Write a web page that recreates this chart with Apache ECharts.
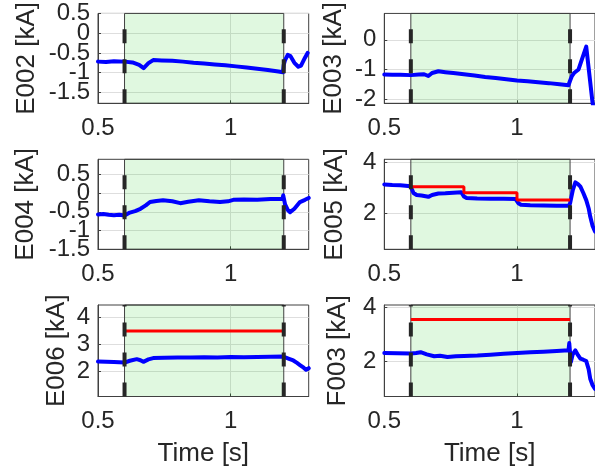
<!DOCTYPE html>
<html><head><meta charset="utf-8">
<script src="https://cdn.jsdelivr.net/npm/echarts@6/dist/echarts.min.js"></script>
<style>html,body{margin:0;padding:0;background:#fff}#c{width:595px;height:473px}</style>
</head><body><div id="c"></div>
<script>
// ---------------- data ----------------
const panelNames = ['E002', 'E003', 'E004', 'E005', 'E006', 'F003'];
const xMin = 0.5, xMax = 1.294;
const xTicks = [0.5, 1];
const windowStart = 0.6, windowEnd = 1.2;

const yLimE002 = [-1.775, 0.5], yTicksE002 = [-1.5, -1, -0.5, 0, 0.5];
const yLimE003 = [-2.14, 0.89], yTicksE003 = [-2, -1, 0];
const yLimE004 = [-1.5, 0.9],  yTicksE004 = [-1.5, -1, -0.5, 0, 0.5];
const yLimE005 = [0.58, 4.13], yTicksE005 = [2, 4];
const yLimE006 = [1.04, 4.47], yTicksE006 = [2, 3, 4];
const yLimF003 = [0.68, 4.09], yTicksF003 = [2, 4];

const tE002 = [0.50,0.53,0.56,0.60,0.63,0.655,0.672,0.69,0.708,0.74,0.78,0.82,0.86,0.90,0.94,0.98,1.02,1.06,1.10,1.14,1.18,1.197,1.20,1.205,1.215,1.225,1.24,1.255,1.265,1.28,1.29];
const vE002 = [-0.72,-0.73,-0.71,-0.72,-0.74,-0.80,-0.885,-0.76,-0.68,-0.69,-0.70,-0.72,-0.75,-0.77,-0.79,-0.81,-0.84,-0.87,-0.90,-0.93,-0.97,-0.99,-0.80,-0.68,-0.55,-0.58,-0.75,-0.85,-0.82,-0.62,-0.50];

const tE003 = [0.50,0.53,0.56,0.60,0.63,0.65,0.666,0.68,0.704,0.73,0.76,0.80,0.84,0.88,0.92,0.96,1.00,1.04,1.08,1.12,1.16,1.194,1.20,1.207,1.215,1.232,1.245,1.261,1.285,1.294];
const vE003 = [-1.17,-1.18,-1.18,-1.19,-1.17,-1.16,-1.22,-1.12,-1.06,-1.09,-1.12,-1.16,-1.20,-1.25,-1.29,-1.33,-1.37,-1.40,-1.43,-1.46,-1.50,-1.53,-1.38,-1.22,-1.12,-1.00,-0.65,-0.23,-2.14,-2.50];

const tE004 = [0.50,0.52,0.54,0.56,0.58,0.60,0.62,0.64,0.66,0.68,0.696,0.72,0.745,0.78,0.81,0.84,0.88,0.92,0.96,0.99,1.01,1.05,1.10,1.15,1.195,1.198,1.205,1.215,1.224,1.24,1.261,1.28,1.294];
const vE004 = [-0.57,-0.56,-0.58,-0.59,-0.58,-0.60,-0.52,-0.48,-0.42,-0.33,-0.24,-0.21,-0.19,-0.22,-0.27,-0.23,-0.19,-0.22,-0.24,-0.22,-0.18,-0.17,-0.18,-0.16,-0.16,-0.06,-0.30,-0.45,-0.51,-0.42,-0.24,-0.18,-0.13];

const tE005 = [0.50,0.53,0.56,0.59,0.60,0.61,0.622,0.64,0.666,0.68,0.704,0.73,0.76,0.79,0.80,0.81,0.85,0.90,0.95,0.995,1.005,1.015,1.05,1.10,1.15,1.195,1.20,1.21,1.22,1.23,1.239,1.25,1.261,1.27,1.276,1.285,1.294];
const vE005 = [3.14,3.12,3.11,3.08,3.05,2.80,2.72,2.70,2.65,2.72,2.78,2.79,2.81,2.83,2.66,2.60,2.58,2.57,2.57,2.56,2.40,2.34,2.32,2.31,2.30,2.30,2.39,2.90,3.22,3.15,3.05,2.80,2.52,2.20,1.87,1.50,1.28];

const tE006 = [0.50,0.53,0.56,0.60,0.62,0.646,0.66,0.671,0.69,0.708,0.75,0.80,0.85,0.90,0.95,1.00,1.05,1.10,1.15,1.196,1.20,1.22,1.236,1.25,1.261,1.275,1.284,1.294];
const vE006 = [2.35,2.34,2.33,2.31,2.38,2.44,2.40,2.34,2.43,2.48,2.49,2.50,2.50,2.51,2.50,2.52,2.51,2.52,2.53,2.54,2.48,2.45,2.39,2.30,2.22,2.12,2.04,2.10];

const tF003 = [0.50,0.55,0.60,0.62,0.637,0.66,0.688,0.71,0.738,0.77,0.80,0.851,0.90,0.95,1.00,1.05,1.10,1.15,1.194,1.197,1.203,1.21,1.22,1.23,1.239,1.25,1.261,1.27,1.276,1.285,1.294];
const vF003 = [2.30,2.29,2.28,2.30,2.33,2.25,2.18,2.20,2.15,2.18,2.19,2.21,2.24,2.27,2.30,2.33,2.35,2.38,2.40,2.67,1.96,2.25,2.40,2.22,2.09,2.05,2.00,1.70,1.34,1.10,0.96];

// reference (red) step lines
const refTE005 = [0.6, 0.8, 1.0, 1.2], refVE005 = [3.05, 2.81, 2.52, 2.52];
const refTE006 = [0.6, 1.2],           refVE006 = [3.5, 3.5];
const refTF003 = [0.6, 1.2],           refVF003 = [3.55, 3.55];

// ---------------- assembly ----------------
const panels = [
  {name: 'E002', lim: yLimE002, ticks: yTicksE002, t: tE002, v: vE002},
  {name: 'E003', lim: yLimE003, ticks: yTicksE003, t: tE003, v: vE003},
  {name: 'E004', lim: yLimE004, ticks: yTicksE004, t: tE004, v: vE004},
  {name: 'E005', lim: yLimE005, ticks: yTicksE005, t: tE005, v: vE005, rt: refTE005, rv: refVE005},
  {name: 'E006', lim: yLimE006, ticks: yTicksE006, t: tE006, v: vE006, rt: refTE006, rv: refVE006},
  {name: 'F003', lim: yLimF003, ticks: yTicksF003, t: tF003, v: vF003, rt: refTF003, rv: refVF003}
];

const FONT = 'Liberation Sans, Arial, sans-serif';
const TXT = '#262626';
const FRAME = '#404040';
const colLeft = [98, 384.3], colWidth = [210.7, 211];
const rowTop = [12.3, 159.3, 305], rowHeight = [91, 90, 91.5];
const nameGaps = [58, 37.5, 59.5, 36, 28, 33];

const grid = [], xAxis = [], yAxis = [], series = [];
panels.forEach((p, i) => {
  const row = Math.floor(i / 2), col = i % 2;
  grid.push({left: colLeft[col], top: rowTop[row], width: colWidth[col], height: rowHeight[row],
    show: true, borderColor: FRAME, borderWidth: 1, backgroundColor: 'transparent'});
  xAxis.push({
    gridIndex: i, type: 'value', min: xMin, max: xMax,
    axisLine: {show: true, onZero: false, lineStyle: {color: FRAME, width: 1}},
    axisTick: {show: true, inside: true, length: 3, customValues: xTicks, lineStyle: {color: FRAME}},
    axisLabel: {customValues: xTicks, fontSize: 24, color: TXT, fontFamily: FONT, margin: 13,
      showMinLabel: true, showMaxLabel: true},
    splitLine: {show: true, lineStyle: {color: '#dedede', width: 1}},
    name: row === 2 ? 'Time [s]' : '', nameLocation: 'middle', nameGap: 44,
    nameTextStyle: {fontSize: 26, color: TXT, fontFamily: FONT}
  });
  // interleave tick labels over two coincident y axes so that tightly packed labels are all kept
  const tickSets = [p.ticks.filter((_, k) => k % 2 === 0), p.ticks.filter((_, k) => k % 2 === 1)];
  const mainIndex = yAxis.length;
  tickSets.forEach((ts, s) => {
    if (!ts.length) return;
    yAxis.push({
      gridIndex: i, type: 'value', min: p.lim[0], max: p.lim[1], position: 'left', offset: 0,
      axisLine: {show: s === 0, onZero: false, lineStyle: {color: FRAME, width: 1}},
      axisTick: {show: true, inside: true, length: 3, customValues: ts, lineStyle: {color: FRAME}},
      axisLabel: {customValues: ts, fontSize: 24, color: TXT, fontFamily: FONT, margin: 8,
        showMinLabel: true, showMaxLabel: true},
      splitLine: {show: true, lineStyle: {color: '#dedede', width: 1}},
      name: s === 0 ? p.name + ' [kA]' : '', nameLocation: 'middle', nameRotate: 90, nameGap: nameGaps[i],
      nameTextStyle: {fontSize: 26, color: TXT, fontFamily: FONT}
    });
  });
  series.push({
    type: 'line', xAxisIndex: i, yAxisIndex: mainIndex, showSymbol: false, symbol: 'none', z: 3,
    data: p.t.map((t, k) => [t, p.v[k]]),
    lineStyle: {color: '#0000ff', width: 4, join: 'round', cap: 'round'},
    markArea: {silent: true, z: 1,
      itemStyle: {color: 'rgba(0,200,0,0.12)', borderColor: FRAME, borderWidth: 1},
      data: [[{xAxis: windowStart}, {xAxis: windowEnd}]]}
  });
  if (p.rt) {
    series.push({
      type: 'line', xAxisIndex: i, yAxisIndex: mainIndex, showSymbol: false, symbol: 'none', z: 4, step: 'end',
      data: p.rt.map((t, k) => [t, p.rv[k]]),
      lineStyle: {color: '#ff0000', width: 3}
    });
  }
  [windowStart, windowEnd].forEach(xv => {
    series.push({
      type: 'line', xAxisIndex: i, yAxisIndex: mainIndex, showSymbol: false, symbol: 'none', z: 5,
      data: [[xv, p.lim[0]], [xv, p.lim[1]]],
      lineStyle: {color: '#262626', width: 4, type: [14, 16]}
    });
  });
});

const chart = echarts.init(document.getElementById('c'), null, {renderer: 'canvas'});
chart.setOption({animation: false, backgroundColor: '#fff', grid, xAxis, yAxis, series});
</script>
</body></html>
